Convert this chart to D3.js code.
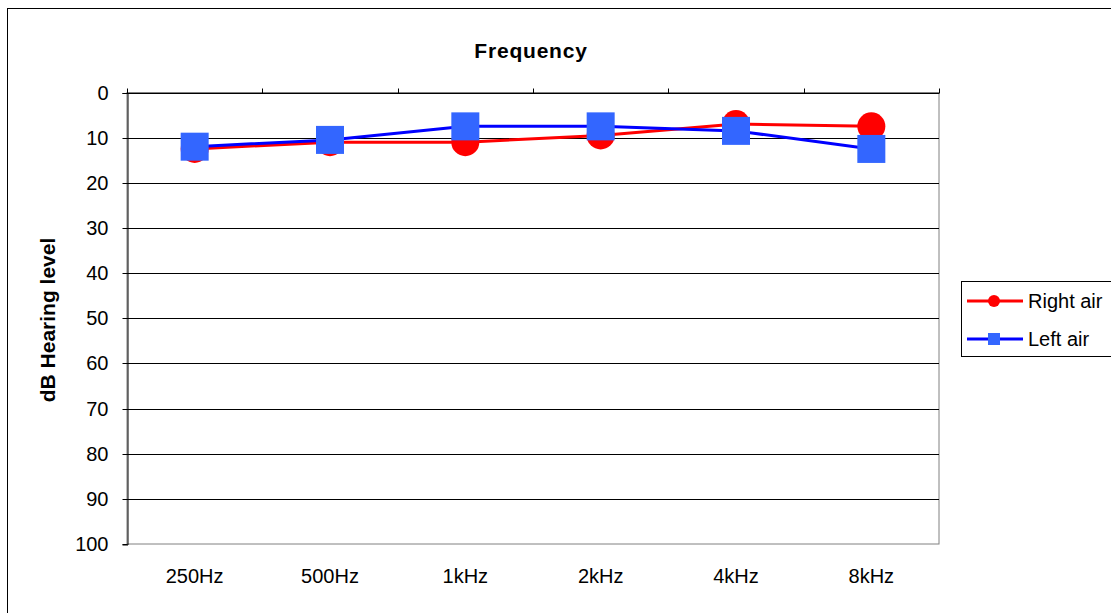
<!DOCTYPE html>
<html>
<head>
<meta charset="utf-8">
<script src="https://cdn.jsdelivr.net/npm/d3@7"></script>
<style>
  body { margin: 0; background: #fff; }
  text { font-family: "Liberation Sans", Arial, sans-serif; fill: #000; }
</style>
</head>
<body>
<div id="chart"></div>
<script>
var categories = ['250Hz', '500Hz', '1kHz', '2kHz', '4kHz', '8kHz'];
var rightAir = [12.5, 11, 11, 9.5, 7, 7.5];
var leftAir = [12, 10.5, 7.5, 7.5, 8.5, 12.5];
var yTicks = [0, 10, 20, 30, 40, 50, 60, 70, 80, 90, 100];
var seriesNames = ['Right air', 'Left air'];

var W = 1111, H = 613;
var plot = {left: 127, top: 92.5, right: 939, bottom: 544};

var svg = d3.select('#chart').append('svg')
    .attr('width', W)
    .attr('height', H);

// chart border
svg.append('rect')
    .attr('x', 7.5).attr('y', 8.5)
    .attr('width', W + 10).attr('height', H + 10)
    .attr('fill', 'none').attr('stroke', '#000').attr('stroke-width', 1);

var x = d3.scaleBand().domain(categories).range([plot.left, plot.right]);
var y = d3.scaleLinear().domain([0, 100]).range([plot.top, plot.bottom]);

// plot area border (gray)
svg.append('rect')
    .attr('x', plot.left).attr('y', plot.top)
    .attr('width', plot.right - plot.left).attr('height', plot.bottom - plot.top)
    .attr('fill', 'none').attr('stroke', '#808080').attr('stroke-width', 1);

// gridlines
svg.append('g').selectAll('line')
    .data(yTicks.slice(0, -1))
  .enter().append('line')
    .attr('x1', plot.left).attr('x2', plot.right)
    .attr('y1', function(d) { return Math.round(y(d)) + 0.5; })
    .attr('y2', function(d) { return Math.round(y(d)) + 0.5; })
    .attr('stroke', '#000').attr('stroke-width', 1);

// y axis
var yAxis = svg.append('g')
    .attr('transform', 'translate(' + (plot.left + 0.5) + ',0.5)')
    .call(d3.axisLeft(y).tickValues(yTicks).tickSize(5).tickPadding(14));
yAxis.select('.domain').attr('stroke', '#000');
yAxis.selectAll('.tick line').attr('stroke', '#000');
yAxis.selectAll('.tick').attr('transform', function(d) { return 'translate(0,' + Math.round(y(d)) + ')'; });
yAxis.selectAll('text').style('font-size', '20px').attr('font-family', null);

// x axis ticks at top (value 0), labels at bottom
var xTop = svg.append('g')
    .attr('transform', 'translate(0,' + (Math.round(plot.top) + 0.5) + ')');
xTop.append('line')
    .attr('x1', plot.left).attr('x2', plot.right)
    .attr('stroke', '#000');
xTop.selectAll('line.tk')
    .data(categories.concat(['end']))
  .enter().append('line')
    .attr('class', 'tk')
    .attr('x1', function(d, i) { return Math.round(plot.left + i * x.bandwidth()) + 0.5; })
    .attr('x2', function(d, i) { return Math.round(plot.left + i * x.bandwidth()) + 0.5; })
    .attr('y1', -5).attr('y2', 0)
    .attr('stroke', '#000');

svg.append('g').selectAll('text')
    .data(categories)
  .enter().append('text')
    .attr('x', function(d) { return x(d) + x.bandwidth() / 2; })
    .attr('y', 583)
    .attr('text-anchor', 'middle')
    .style('font-size', '20px')
    .text(function(d) { return d; });

// titles
svg.append('text')
    .attr('x', 531).attr('y', 58)
    .attr('text-anchor', 'middle')
    .style('font-size', '21px').style('font-weight', 'bold')
    .style('letter-spacing', '0.8px')
    .text('Frequency');

svg.append('text')
    .attr('transform', 'translate(55,' + 320 + ') rotate(-90)')
    .attr('text-anchor', 'middle')
    .style('font-size', '21px').style('font-weight', 'bold')
    .text('dB Hearing level');

var cx = function(d, i) { return x(categories[i]) + x.bandwidth() / 2; };
var line = d3.line()
    .x(function(d, i) { return cx(d, i); })
    .y(function(d) { return y(d); });

// right air
svg.append('path')
    .datum(rightAir)
    .attr('d', line)
    .attr('fill', 'none').attr('stroke', '#ff0000').attr('stroke-width', 3);
svg.append('g').selectAll('circle')
    .data(rightAir)
  .enter().append('circle')
    .attr('cx', cx)
    .attr('cy', function(d) { return y(d); })
    .attr('r', 14)
    .attr('fill', '#ff0000');

// left air
svg.append('path')
    .datum(leftAir)
    .attr('d', line)
    .attr('fill', 'none').attr('stroke', '#0000ff').attr('stroke-width', 3);
svg.append('g').selectAll('rect')
    .data(leftAir)
  .enter().append('rect')
    .attr('x', function(d, i) { return cx(d, i) - 14; })
    .attr('y', function(d) { return y(d) - 14; })
    .attr('width', 28).attr('height', 28)
    .attr('fill', '#3366ff');

// legend
var legend = svg.append('g').attr('transform', 'translate(961,281)');
legend.append('rect')
    .attr('x', 0.5).attr('y', 0.5)
    .attr('width', 160).attr('height', 75)
    .attr('fill', '#fff').attr('stroke', '#000');

var items = legend.selectAll('g.item')
    .data(seriesNames)
  .enter().append('g')
    .attr('class', 'item')
    .attr('transform', function(d, i) { return 'translate(0,' + (20 + i * 38) + ')'; });
items.append('line')
    .attr('x1', 6).attr('x2', 62)
    .attr('stroke', function(d, i) { return i === 0 ? '#ff0000' : '#0000ff'; })
    .attr('stroke-width', 3);
items.filter(function(d, i) { return i === 0; }).append('circle')
    .attr('cx', 33).attr('r', 6).attr('fill', '#ff0000');
items.filter(function(d, i) { return i === 1; }).append('rect')
    .attr('x', 27).attr('y', -6).attr('width', 12).attr('height', 12).attr('fill', '#3366ff');
items.append('text')
    .attr('x', 67).attr('y', 7)
    .style('font-size', '20px')
    .text(function(d) { return d; });
</script>
</body>
</html>
